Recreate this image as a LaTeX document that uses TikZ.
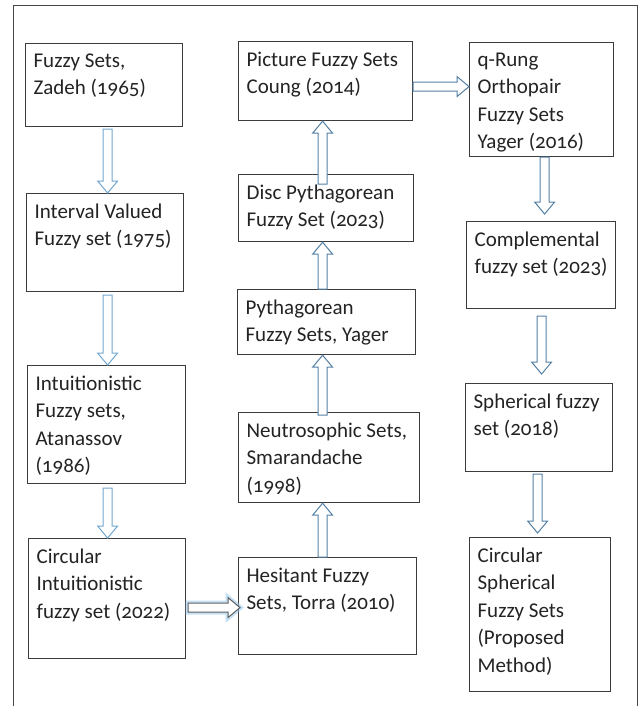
\documentclass[tikz,border=0pt]{standalone}
\usepackage{fontspec}
\setmainfont{Carlito}[Numbers=OldStyle]
\usetikzlibrary{calc}
\definecolor{boxGray}{RGB}{60,60,60}
\definecolor{frameGray}{RGB}{70,70,70}
\definecolor{inkDark}{RGB}{35,35,35}
\definecolor{arrowBlue}{RGB}{84,128,165}
\definecolor{arrowLight}{RGB}{115,168,208}
\definecolor{glowBlue}{RGB}{150,200,238}
\definecolor{glowEdge}{RGB}{95,95,95}
\tikzset{
  set box/.style 2 args={draw=boxGray,line width=1.2pt,anchor=north west,inner xsep=8pt,inner ysep=0pt,
    minimum width=#1pt,minimum height=#2pt,text=inkDark,font=\fontsize{21}{27.5}\selectfont,
    execute at begin node={\begin{minipage}[c][#2pt][t]{\dimexpr#1pt-16pt\relax}\raggedright\vspace*{10pt}},
    execute at end node={\end{minipage}}},
  hollow arrow/.style={draw=arrowBlue,fill=white,line width=1pt,line join=miter,
    to path={let \p1=(\tikztostart),\p2=(\tikztotarget) in
      ($(\p1)!4.5pt!90:(\p2)$) -- ($(\p2)!12pt!(\p1)!4.5pt!-90:(\p1)$) -- ($(\p2)!12pt!(\p1)!10pt!-90:(\p1)$)
      -- (\p2) -- ($(\p2)!12pt!(\p1)!10pt!90:(\p1)$) -- ($(\p2)!12pt!(\p1)!4.5pt!90:(\p1)$)
      -- ($(\p1)!4.5pt!-90:(\p2)$) -- cycle}},
  hollow arrow light/.style={hollow arrow,draw=arrowLight},
  glow arrow/.style={hollow arrow,draw=glowEdge,preaction={draw=glowBlue,line width=5pt,opacity=.55}},
  frame line/.style={draw=frameGray,line width=1pt}
}
\begin{document}
\begin{tikzpicture}[x=1pt,y=-1pt]
  \useasboundingbox (0,0) rectangle (644,706);
  \draw[frame line] (13,706) -- (13,6) -- (637,6) -- (637,706);
  % first column
  \node[set box={157}{83}] (fuzzy) at (25,43) {Fuzzy Sets,\\Zadeh (1965)};
  \node[set box={157}{98}] (interval) at (26,193) {Interval Valued\\Fuzzy set (1975)};
  \node[set box={158}{118}] (intuit) at (27,365) {Intuitionistic\\Fuzzy sets,\\Atanassov\\(1986)};
  \node[set box={157}{120}] (circint) at (28,538) {Circular\\Intuitionistic\\fuzzy set (2022)};
  % second column
  \node[set box={174}{79}] (picture) at (238,41) {Picture Fuzzy Sets\\Coung (2014)};
  \node[set box={175}{67}] (disc) at (238,174) {Disc Pythagorean\\Fuzzy Set (2023)};
  \node[set box={178}{65}] (pyth) at (237,289) {Pythagorean\\Fuzzy Sets, Yager};
  \node[set box={181}{90}] (neutro) at (238,412) {Neutrosophic Sets,\\Smarandache\\(1998)};
  \node[set box={178}{97}] (hesitant) at (238,557) {Hesitant Fuzzy\\Sets, Torra (2010)};
  % third column
  \node[set box={144}{114}] (qrung) at (469,42) {q-Rung\\Orthopair\\Fuzzy Sets\\Yager (2016)};
  \node[set box={149}{87}] (compl) at (466,221) {Complemental\\fuzzy set (2023)};
  \node[set box={147}{88}] (spher) at (465,383) {Spherical fuzzy\\set (2018)};
  \node[set box={141}{154}] (circsph) at (469,537) {Circular\\Spherical\\Fuzzy Sets\\(Proposed\\Method)};
  % arrows
  \draw[hollow arrow light] ([shift={(3.5,2)}]fuzzy.south) to ([xshift=3.5pt]fuzzy.south |- interval.north);
  \draw[hollow arrow light] ([shift={(2.5,3)}]interval.south) to ([xshift=2.5pt]interval.south |- intuit.north);
  \draw[hollow arrow light] ([shift={(1,4)}]intuit.south) to ([xshift=1pt]intuit.south |- circint.north);
  \draw[glow arrow] ([shift={(2,9)}]circint.east) to ([shift={(2,9)}]circint.east -| hesitant.west);
  \draw[hollow arrow] ([xshift=-5pt]hesitant.north) to ([xshift=-5pt]hesitant.north |- neutro.south);
  \draw[hollow arrow] ([shift={(-6.5,3)}]neutro.north) to ([xshift=-6.5pt]neutro.north |- pyth.south);
  \draw[hollow arrow] ([xshift=-4pt]pyth.north) to ([xshift=-4pt]pyth.north |- disc.south);
  \draw[hollow arrow] ([shift={(-3.5,10)}]disc.north) to ([xshift=-3.5pt]disc.north |- picture.south);
  \draw[hollow arrow] ([yshift=-5.5pt]picture.east) to ([yshift=-5.5pt]picture.east -| qrung.west);
  \draw[hollow arrow] ([xshift=3pt]qrung.south) to ([shift={(3,-7)}]qrung.south |- compl.north);
  \draw[hollow arrow] ([shift={(0.5,7)}]compl.south) to ([shift={(0.5,-9)}]compl.south |- spher.north);
  \draw[hollow arrow] ([shift={(-1.5,2)}]spher.south) to ([shift={(-1.5,-4)}]spher.south |- circsph.north);
\end{tikzpicture}
\end{document}
